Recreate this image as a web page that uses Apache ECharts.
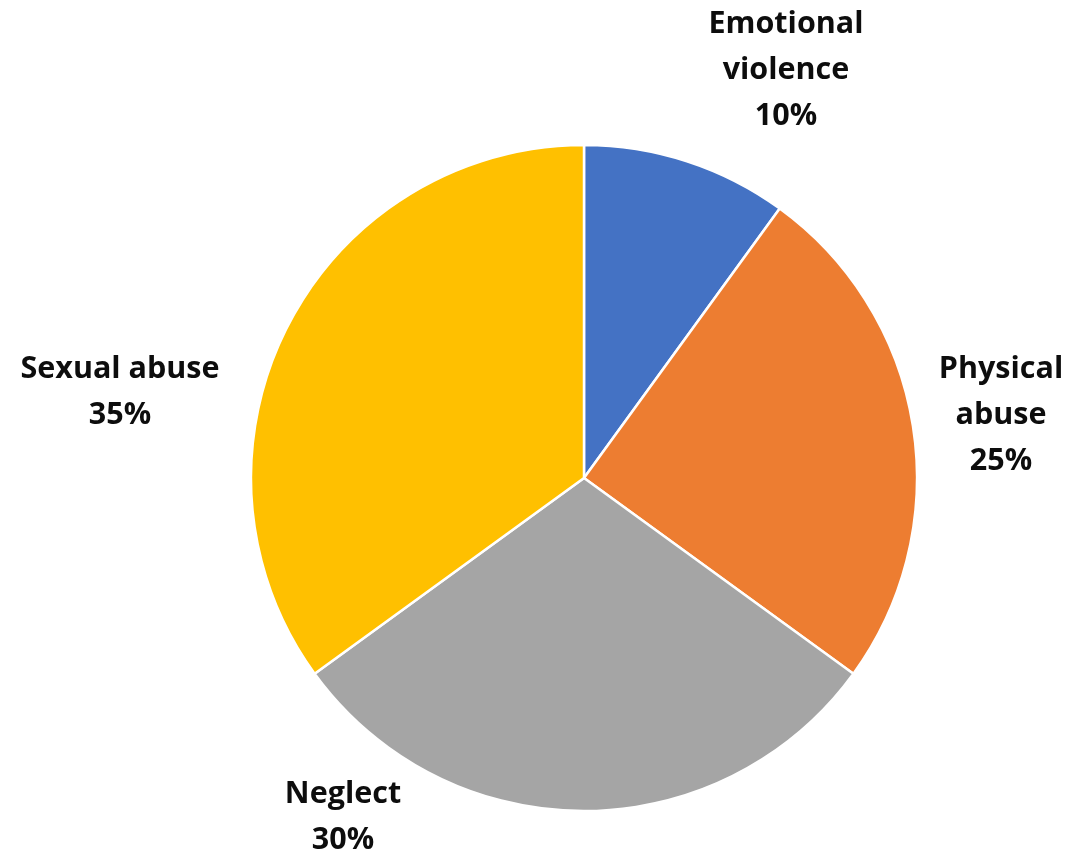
<!DOCTYPE html>
<html>
<head>
<meta charset="utf-8">
<style>
  html, body { margin: 0; padding: 0; background: #fff; }
  #chart { width: 1089px; height: 855px; }
</style>
<script src="https://cdn.jsdelivr.net/npm/echarts@6/dist/echarts.min.js"></script>
</head>
<body>
<div id="chart"></div>
<script>
// Categories and shares (%)
const categories = ['Emotional violence', 'Physical abuse', 'Neglect', 'Sexual abuse'];
const values = [10, 25, 30, 35];
// Label line breaks for display
const labelNames = ['Emotional\nviolence', 'Physical\nabuse', 'Neglect', 'Sexual abuse'];
const colors = ['#4472C4', '#ED7D31', '#A5A5A5', '#FFC000'];

// Label anchor points (center of each text block)
const labelAnchors = [[786, 70], [1001, 415], [343, 817], [120, 392]];

const chart = echarts.init(document.getElementById('chart'), null, { renderer: 'canvas' });

chart.setOption({
  backgroundColor: '#ffffff',
  animation: false,
  series: [{
    type: 'pie',
    center: [584, 478],
    radius: [0, 333],
    startAngle: 90,
    clockwise: true,
    data: categories.map((c, i) => ({
      name: c,
      value: values[i],
      itemStyle: { color: colors[i] }
    })),
    itemStyle: { borderColor: '#ffffff', borderWidth: 2.5 },
    label: {
      show: true,
      position: 'outside',
      overflow: 'none',
      edgeDistance: 0,
      formatter: p => labelNames[p.dataIndex] + '\n' + p.value + '%',
      fontFamily: 'Open Sans',
      fontWeight: 'bold',
      fontSize: 30.5,
      lineHeight: 46,
      color: '#0d0d0d',
      align: 'center'
    },
    labelLine: { show: false },
    labelLayout: p => ({
      x: labelAnchors[p.dataIndex][0],
      y: labelAnchors[p.dataIndex][1],
      align: 'center',
      verticalAlign: 'middle'
    })
  }]
});
</script>
</body>
</html>
